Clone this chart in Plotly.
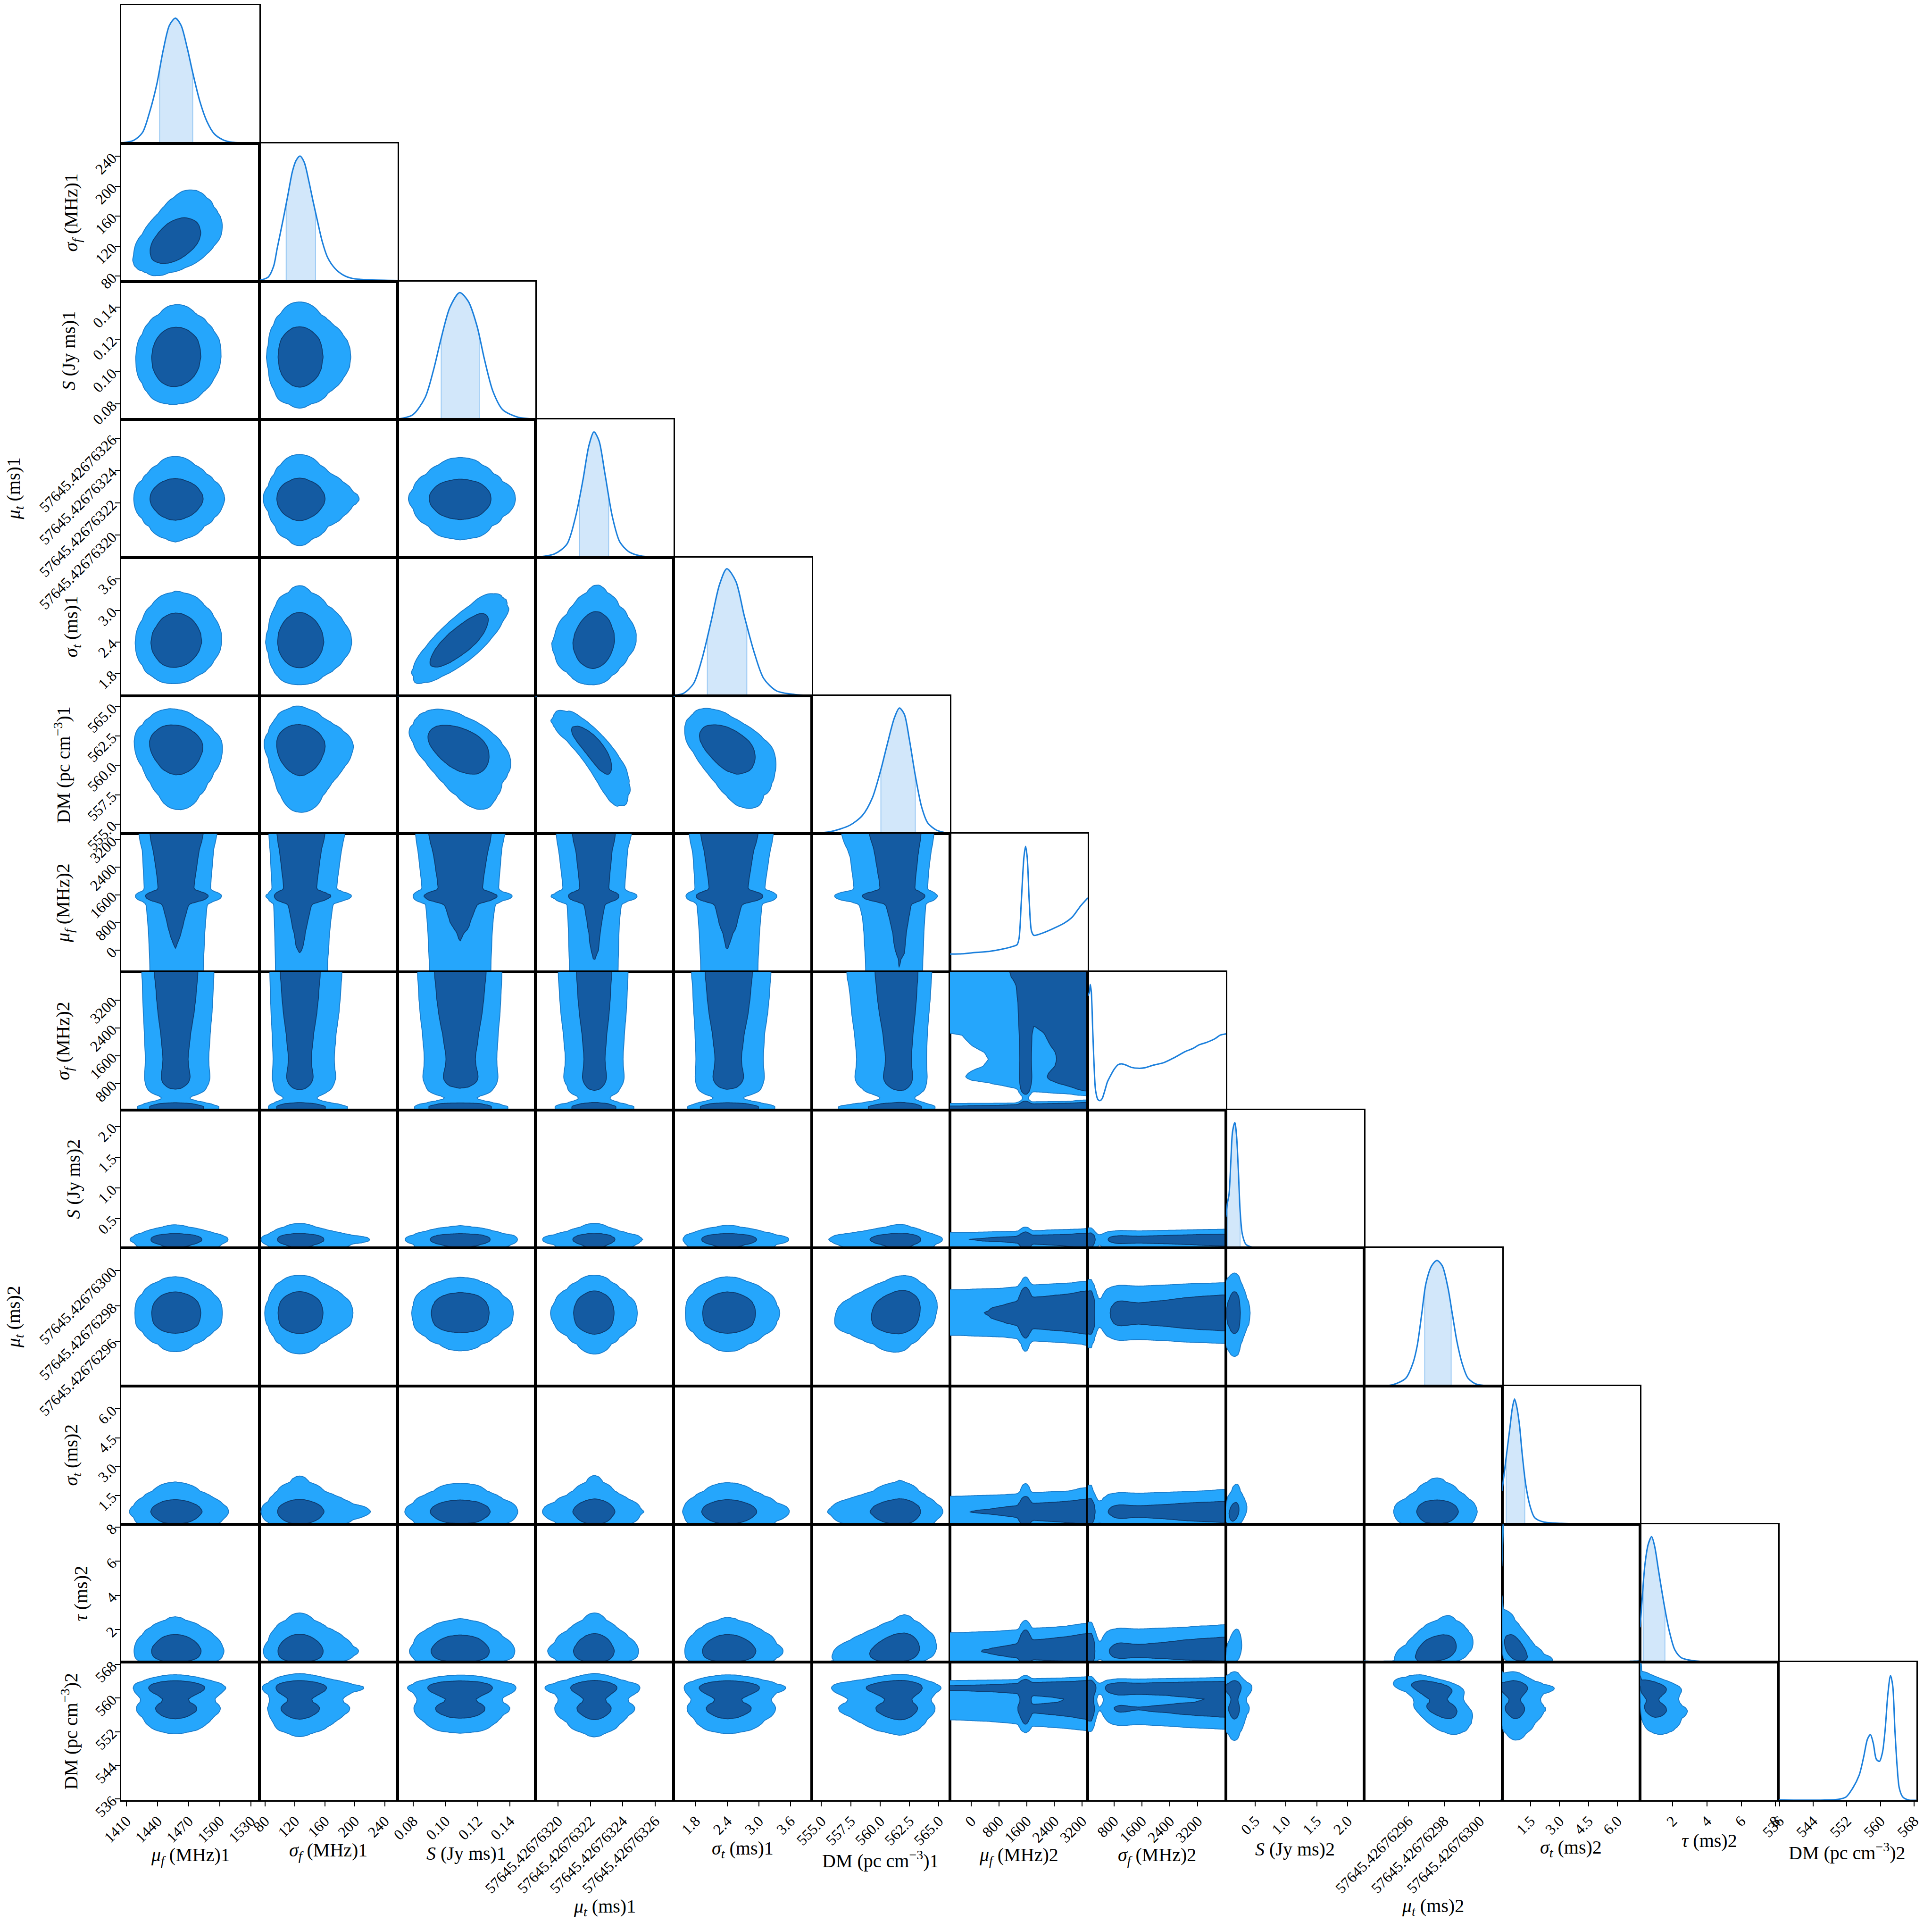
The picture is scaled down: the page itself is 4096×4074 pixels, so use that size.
import math
import numpy as np
import plotly.graph_objects as go

# ---------------------------------------------------------------- data
LABELS = [
    "<i>μ<sub>f</sub></i> (MHz)1", "<i>σ<sub>f</sub></i> (MHz)1", "<i>S</i> (Jy ms)1",
    "<i>μ<sub>t</sub></i> (ms)1", "<i>σ<sub>t</sub></i> (ms)1", "DM (pc cm<sup>−3</sup>)1",
    "<i>μ<sub>f</sub></i> (MHz)2", "<i>σ<sub>f</sub></i> (MHz)2", "<i>S</i> (Jy ms)2",
    "<i>μ<sub>t</sub></i> (ms)2", "<i>σ<sub>t</sub></i> (ms)2", "<i>τ</i> (ms)2",
    "DM (pc cm<sup>−3</sup>)2",
]

# mu_t1 is given in units of 1e-8 relative to 57645.4267632,
# mu_t2 in units of 1e-8 relative to 57645.4267629
RANGES = [
    (1405.1, 1538.2), (72.6, 257.0), (0.0702, 0.1558), (-1.39, 7.14),
    (1.38, 4.00), (554.17, 565.93), (-624.0, 3365.0), (50.0, 4005.0),
    (0.025, 2.267), (3.51, 11.25), (0.02, 7.18), (0.10, 8.16), (535.7, 568.5),
]

TICK_VALS = [
    [1410, 1440, 1470, 1500, 1530], [80, 120, 160, 200, 240], [0.08, 0.10, 0.12, 0.14],
    [0, 2, 4, 6], [1.8, 2.4, 3.0, 3.6], [555.0, 557.5, 560.0, 562.5, 565.0],
    [0, 800, 1600, 2400, 3200], [800, 1600, 2400, 3200], [0.5, 1.0, 1.5, 2.0],
    [6, 8, 10], [1.5, 3.0, 4.5, 6.0], [2, 4, 6, 8], [536, 544, 552, 560, 568],
]
TICK_TEXT = [
    ["1410", "1440", "1470", "1500", "1530"], ["80", "120", "160", "200", "240"],
    ["0.08", "0.10", "0.12", "0.14"],
    ["57645.42676320", "57645.42676322", "57645.42676324", "57645.42676326"],
    ["1.8", "2.4", "3.0", "3.6"], ["555.0", "557.5", "560.0", "562.5", "565.0"],
    ["0", "800", "1600", "2400", "3200"], ["800", "1600", "2400", "3200"],
    ["0.5", "1.0", "1.5", "2.0"],
    ["57645.42676296", "57645.42676298", "57645.42676300"],
    ["1.5", "3.0", "4.5", "6.0"], ["2", "4", "6", "8"], ["536", "544", "552", "560", "568"],
]

# marginal posterior curves (x value, height as fraction of panel height)
M0_X = [1405.3, 1416.9, 1425.5, 1432.4, 1439.3, 1445.4, 1451.5, 1457.2, 1462.7, 1468.7, 1473.9, 1480.8, 1487.8, 1494.7, 1503.3, 1512.0, 1538.0]
M0_Y = [0.004, 0.022, 0.079, 0.227, 0.428, 0.672, 0.856, 0.908, 0.856, 0.690, 0.515, 0.306, 0.157, 0.070, 0.026, 0.009, 0.003]
M1_X = [73.2, 84.4, 91.6, 96.4, 104.8, 110.8, 116.8, 121.6, 126.9, 132.5, 138.4, 144.5, 149.3, 156.5, 163.7, 173.3, 185.3, 197.4, 221.4, 257.0]
M1_Y = [0.009, 0.032, 0.110, 0.240, 0.462, 0.630, 0.799, 0.877, 0.909, 0.864, 0.734, 0.577, 0.460, 0.291, 0.175, 0.097, 0.045, 0.022, 0.012, 0.008]
M2_X = [0.0705, 0.0798, 0.0874, 0.0927, 0.0973, 0.1027, 0.1088, 0.1141, 0.1195, 0.1241, 0.1294, 0.1355, 0.1448, 0.1558]
M2_Y = [0.004, 0.036, 0.161, 0.366, 0.589, 0.813, 0.920, 0.857, 0.679, 0.438, 0.205, 0.071, 0.018, 0.004]
M3_X = [-1.36, -0.22, 0.55, 1.08, 1.54, 1.91, 2.22, 2.53, 2.90, 3.36, 3.81, 4.35, 5.11, 7.09]
M3_Y = [0.004, 0.027, 0.098, 0.295, 0.563, 0.813, 0.911, 0.848, 0.607, 0.295, 0.116, 0.045, 0.013, 0.002]
M4_X = [1.39, 1.57, 1.76, 1.92, 2.09, 2.25, 2.39, 2.56, 2.72, 2.91, 3.09, 3.33, 3.68, 3.98]
M4_Y = [0.004, 0.018, 0.089, 0.268, 0.536, 0.804, 0.920, 0.830, 0.580, 0.313, 0.125, 0.036, 0.009, 0.002]
M5_X = [554.19, 555.87, 557.44, 558.50, 559.33, 560.06, 560.59, 561.21, 561.64, 562.06, 562.48, 563.00, 563.53, 564.05, 564.79, 565.84]
M5_Y = [0.002, 0.018, 0.063, 0.134, 0.259, 0.464, 0.643, 0.839, 0.911, 0.866, 0.688, 0.420, 0.196, 0.080, 0.027, 0.004]
M6_X = [-624, -273, 38, 505, 896, 1207, 1323, 1378, 1442, 1518, 1566, 1614, 1674, 1738, 1805, 2065, 2376, 2687, 2922, 3154, 3365]
M6_Y = [0.129, 0.131, 0.139, 0.148, 0.165, 0.185, 0.198, 0.243, 0.503, 0.828, 0.909, 0.828, 0.503, 0.295, 0.265, 0.282, 0.315, 0.354, 0.399, 0.477, 0.536]
M7_X = [50, 96, 119, 150, 188, 227, 273, 342, 404, 458, 535, 612, 689, 805, 920, 1012, 1112, 1304, 1497, 1689, 1920, 2229, 2534, 2842, 3075, 3230, 3459, 3690, 3843, 4005]
M7_Y = [0.828, 0.854, 0.909, 0.854, 0.594, 0.334, 0.139, 0.074, 0.068, 0.081, 0.139, 0.204, 0.243, 0.295, 0.328, 0.334, 0.328, 0.308, 0.302, 0.306, 0.324, 0.343, 0.380, 0.423, 0.447, 0.471, 0.490, 0.516, 0.542, 0.551]
M8_X = [0.025, 0.047, 0.076, 0.104, 0.133, 0.170, 0.198, 0.228, 0.257, 0.293, 0.351, 0.460, 1.076, 2.267]
M8_Y = [0.227, 0.318, 0.390, 0.617, 0.844, 0.909, 0.812, 0.552, 0.260, 0.097, 0.026, 0.006, 0.002, 0.001]
M9_X = [3.56, 5.12, 5.86, 6.24, 6.49, 6.74, 6.98, 7.30, 7.60, 7.90, 8.22, 8.47, 8.72, 9.02, 9.34, 9.83, 11.25]
M9_Y = [0.003, 0.010, 0.058, 0.161, 0.290, 0.516, 0.742, 0.871, 0.910, 0.871, 0.710, 0.516, 0.323, 0.161, 0.058, 0.013, 0.003]
M10_X = [0.02, 0.205, 0.436, 0.551, 0.667, 0.782, 0.921, 1.059, 1.245, 1.475, 1.706, 2.168, 3.092, 7.18]
M10_Y = [0.242, 0.452, 0.710, 0.840, 0.906, 0.850, 0.720, 0.516, 0.290, 0.129, 0.048, 0.016, 0.006, 0.003]
M11_X = [0.10, 0.23, 0.38, 0.57, 0.77, 0.95, 1.16, 1.37, 1.55, 1.81, 2.12, 2.51, 3.28, 4.32, 8.16]
M11_Y = [0.253, 0.481, 0.708, 0.854, 0.909, 0.838, 0.675, 0.513, 0.383, 0.221, 0.091, 0.032, 0.010, 0.003, 0.003]
M12_X = [535.9, 549.67, 551.77, 553.38, 554.95, 556.0, 556.9, 557.6, 558.3, 559.0, 559.75, 560.46, 561.09, 561.74, 562.37, 562.89, 563.42, 563.94, 564.47, 565.32, 566.60, 568.5]
M12_Y = [0.003, 0.006, 0.023, 0.087, 0.184, 0.314, 0.443, 0.476, 0.411, 0.298, 0.282, 0.346, 0.508, 0.767, 0.903, 0.832, 0.508, 0.249, 0.087, 0.023, 0.003, 0.0]

MARG_X = [M0_X, M1_X, M2_X, M3_X, M4_X, M5_X, M6_X, M7_X, M8_X, M9_X, M10_X, M11_X, M12_X]
MARG_Y = [M0_Y, M1_Y, M2_Y, M3_Y, M4_Y, M5_Y, M6_Y, M7_Y, M8_Y, M9_Y, M10_Y, M11_Y, M12_Y]

# shaded 68% interval on each marginal (None = not shaded)
BANDS = [(1442, 1474), (108.4, 147.6), (0.0973, 0.1210), (1.31, 3.13), (2.02, 2.77),
         (560.06, 563.0), None, None, (0.047, 0.257), (6.91, 8.40), (0.23, 1.20),
         (0.28, 1.55), None]

# pairwise correlation (row param, column param)
RHO = {
    (1, 0): 0.45, (2, 0): 0.05, (4, 0): 0.05, (4, 2): 0.80, (4, 3): 0.10,
    (5, 0): -0.10, (5, 1): -0.05, (5, 2): -0.45, (5, 3): -0.85, (5, 4): -0.50,
    (9, 5): 0.15, (10, 8): 0.30, (11, 5): 0.20, (11, 8): 0.40, (11, 9): 0.35,
    (11, 10): -0.50, (12, 9): -0.60, (12, 10): -0.10, (12, 11): -0.40,
}
LEVELS = [0.95, 0.68]   # credible-region contours

# ---------------------------------------------------------------- style
W, H = 4096, 4074
S = W / 5352.0
FONT = "Liberation Serif"
X0, Y0 = 336 * S, 15 * S
PW, PH = 382.5 * S, 382.4 * S
N = len(LABELS)
LIGHT, LIGHT_EDGE = "#25A6FC", "#1A7CCB"
DARK, DARK_EDGE = "#145BA2", "#0D3C70"
LINE = "#1A7FDC"
BAND = "rgba(30,136,229,0.2)"
BAND_EDGE = "rgba(30,136,229,0.35)"
XT_Y = [5140, 5127, 5133, 5283, 5122, 5150, 5140, 5140, 5122, 5282, 5120, 5098, 5128]
YT_X = [None, 200, 190, 40, 200, 172, 178, 178, 202, 40, 200, 224, 193]
NG = 80


def xdom(j):
    return [(X0 + j * PW) / W, (X0 + (j + 1) * PW) / W]


def ydom(i):
    return [1 - (Y0 + (i + 1) * PH) / H, 1 - (Y0 + i * PH) / H]


def dens(p, xs):
    return np.interp(xs, MARG_X[p], MARG_Y[p])


ZT = np.linspace(-6, 6, 2401)
PHIT = 0.5 * (1 + np.array([math.erf(v / math.sqrt(2)) for v in ZT]))


def ztrans(p, xs):
    lo, hi = RANGES[p]
    fine = np.linspace(lo, hi, 3000)
    d = np.maximum(dens(p, fine), 1e-9)
    cdf = np.concatenate([[0.0], np.cumsum(0.5 * (d[1:] + d[:-1]) * np.diff(fine))])
    cdf /= cdf[-1]
    F = np.clip(np.interp(xs, fine, cdf), 1e-7, 1 - 1e-7)
    return np.interp(F, PHIT, ZT)


def panel_rank(i, j):
    xs = np.linspace(RANGES[j][0], RANGES[j][1], NG)
    ys = np.linspace(RANGES[i][0], RANGES[i][1], NG)
    d = dens(i, ys)[:, None] * dens(j, xs)[None, :]
    rho = RHO.get((i, j), 0.0)
    if rho != 0.0:
        zx = ztrans(j, xs)[None, :]
        zy = ztrans(i, ys)[:, None]
        c = np.exp(-(rho ** 2 * (zx ** 2 + zy ** 2) - 2 * rho * zx * zy) / (2 * (1 - rho ** 2)))
        d = d * c / math.sqrt(1 - rho ** 2)
    flat = d.ravel()
    order = np.argsort(-flat)
    cum = np.cumsum(flat[order])
    cum /= cum[-1]
    s = np.empty_like(cum)
    s[order] = cum
    return xs, ys, np.round(s.reshape(d.shape), 4)


frame = dict(showline=True, mirror=True, linecolor="black", linewidth=2.5, showgrid=False,
             zeroline=False, ticks="", showticklabels=False, fixedrange=True,
             automargin=False)


def tick_cfg(p):
    return dict(ticks="outside", ticklen=10, tickwidth=2, tickcolor="black",
                showticklabels=True, tickmode="array", tickvals=TICK_VALS[p],
                ticktext=TICK_TEXT[p], tickangle=-45,
                tickfont=dict(family=FONT, size=32, color="black"))


fig = go.Figure()
layout = dict(width=W, height=H, margin=dict(l=0, r=0, t=0, b=0, autoexpand=False),
              paper_bgcolor="white", plot_bgcolor="white", showlegend=False,
              template="none")
k = 0
for i in range(N):
    for j in range(i + 1):
        k += 1
        sfx = "" if k == 1 else str(k)
        xref, yref = "x" + sfx, "y" + sfx
        xa = dict(domain=xdom(j), anchor=yref, range=list(RANGES[j]), **frame)
        ya = dict(domain=ydom(i), anchor=xref, **frame)
        if i == N - 1:
            xa.update(tick_cfg(j))
        if i == j:
            ya["range"] = [0, 1]
        else:
            ya["range"] = list(RANGES[i])
            if j == 0:
                ya.update(tick_cfg(i))
        layout["xaxis" + sfx] = xa
        layout["yaxis" + sfx] = ya

        if i == j:
            b = BANDS[i]
            if b is not None:
                bx = [b[0]] + [x for x in MARG_X[i] if b[0] < x < b[1]] + [b[1]]
                by = list(dens(i, np.array(bx)))
                fig.add_trace(go.Scatter(x=bx, y=by, mode="lines", fill="tozeroy",
                                         fillcolor=BAND, line=dict(width=0, shape="spline", smoothing=0.8),
                                         hoverinfo="skip", xaxis=xref, yaxis=yref))
                fig.add_trace(go.Scatter(x=[b[0], b[0], None, b[1], b[1]],
                                         y=[0, by[0], None, 0, by[-1]], mode="lines",
                                         line=dict(color=BAND_EDGE, width=2),
                                         hoverinfo="skip", xaxis=xref, yaxis=yref))
            fig.add_trace(go.Scatter(x=MARG_X[i], y=MARG_Y[i], mode="lines",
                                     line=dict(color=LINE, width=3, shape="spline", smoothing=0.8),
                                     hoverinfo="skip", xaxis=xref, yaxis=yref))
        else:
            xs, ys, s = panel_rank(i, j)
            for lev, fc, lc in [(LEVELS[0], LIGHT, LIGHT_EDGE), (LEVELS[1], DARK, DARK_EDGE)]:
                fig.add_trace(go.Contour(
                    x=xs, y=ys, z=s, showscale=False, hoverinfo="skip",
                    contours=dict(type="constraint", operation=">", value=lev),
                    fillcolor=fc, line=dict(color=lc, width=1.8, smoothing=1.0),
                    xaxis=xref, yaxis=yref))

ann = []
for j in range(N):
    ann.append(dict(text=LABELS[j], x=(X0 + (j + 0.5) * PW) / W, y=1 - XT_Y[j] * S / H,
                    xref="paper", yref="paper", showarrow=False, xanchor="center",
                    yanchor="middle", font=dict(family=FONT, size=40, color="black")))
for i in range(1, N):
    ann.append(dict(text=LABELS[i], x=YT_X[i] * S / W, y=1 - (Y0 + (i + 0.5) * PH) / H,
                    xref="paper", yref="paper", showarrow=False, xanchor="center",
                    yanchor="middle", textangle=-90,
                    font=dict(family=FONT, size=40, color="black")))
layout["annotations"] = ann
fig.update_layout(**layout)
fig.write_html("out.html")
